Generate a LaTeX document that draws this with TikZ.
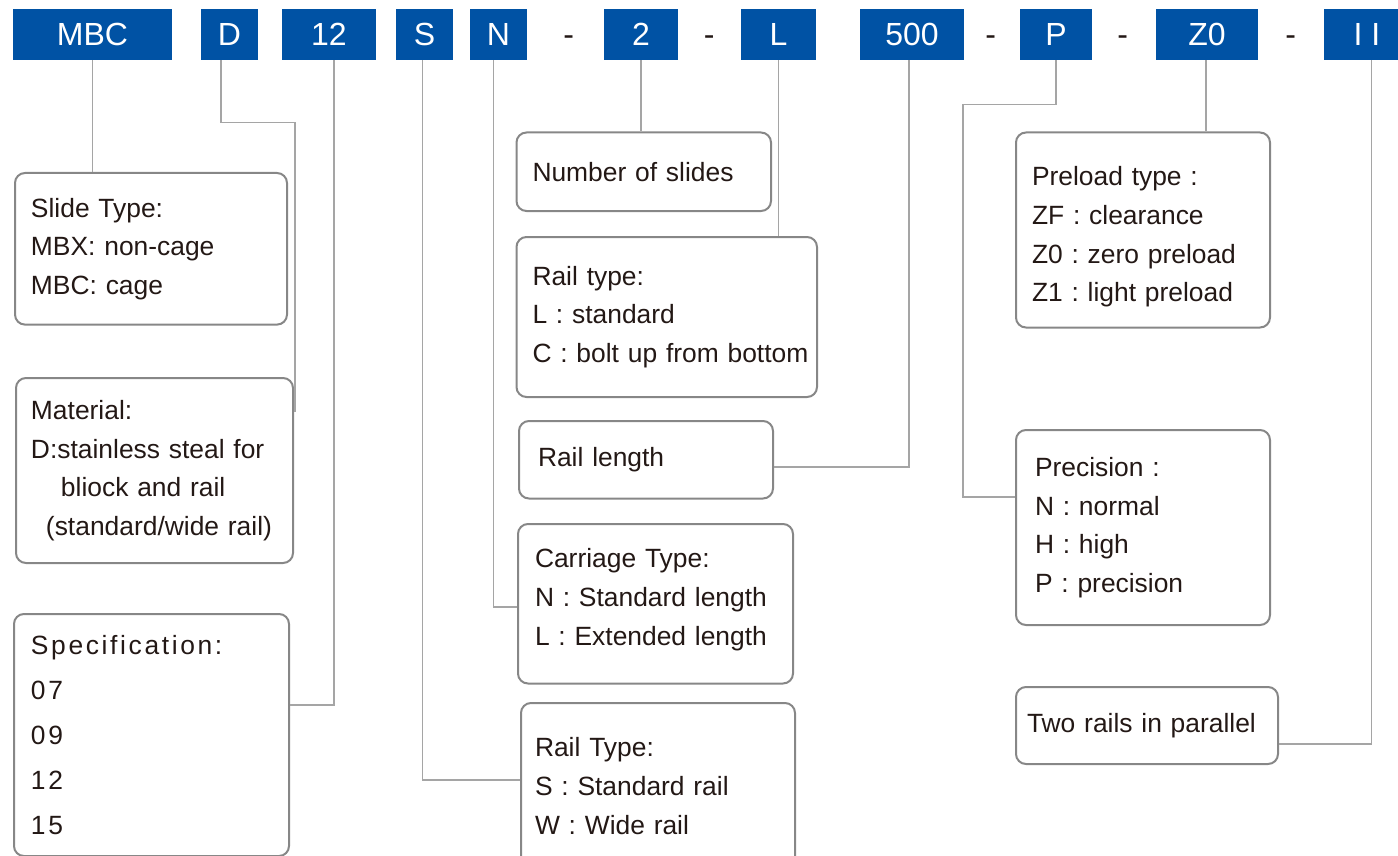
\documentclass[tikz,border=0pt]{standalone}
\usepackage{fontspec}
\setmainfont{Liberation Sans}
\newfontfamily\spacedfont[LetterSpace=10]{Liberation Sans}
\usetikzlibrary{positioning}
\definecolor{codeblue}{RGB}{0,82,164}
\definecolor{boxgray}{RGB}{135,135,135}
\definecolor{linegray}{RGB}{165,165,165}
\definecolor{inkblack}{RGB}{35,24,21}

\begin{document}
\frenchspacing
\begin{tikzpicture}[x=0.5pt, y=-0.5pt,
code/.style={rectangle, fill=codeblue, text=white, minimum height=25.5pt, inner sep=0pt, font=\fontsize{16}{19}\selectfont},
hyphen/.style={anchor=base, text=inkblack, inner sep=0pt, font=\fontsize{16}{19}\selectfont},
desc/.style={rectangle, draw=boxgray, line width=1pt, rounded corners=5pt, anchor=north west, align=left, inner xsep=8pt, text=inkblack, font=\fontsize{13.2}{19.3}\selectfont},
link/.style={draw=linegray, line width=0.75pt}]

\useasboundingbox (0,0) rectangle (1398,856);

%order code
\node (cMBC) [code, minimum width=79.5pt] at (92.5,34.5) {MBC};
\node (cD) [code, minimum width=28.5pt] at (229.5,34.5) {D};
\node (c12) [code, minimum width=47pt] at (329,34.5) {12};
\node (cS) [code, minimum width=28.5pt] at (424.5,34.5) {S};
\node (cN) [code, minimum width=28.5pt] at (498.5,34.5) {N};
\node (d1) [hyphen] at (568.7,46) {-};
\node (c2) [code, minimum width=37pt] at (641,34.5) {2};
\node (d2) [hyphen] at (709.3,46) {-};
\node (cL) [code, minimum width=37.5pt] at (778.5,34.5) {L};
\node (c500) [code, minimum width=52pt] at (912,34.5) {500};
\node (d3) [hyphen] at (990.7,46) {-};
\node (cP) [code, minimum width=36pt] at (1056,34.5) {P};
\node (d4) [hyphen] at (1122.7,46) {-};
\node (cZ0) [code, minimum width=51pt] at (1207,34.5) {Z0};
\node (d5) [hyphen] at (1290.7,46) {-};
\node (cII) [code, minimum width=43pt] at (1367,34.5) {I I};

%left column
\node (slidetype) [desc, text width=120pt, minimum height=75.8pt] at (14,172) {Slide Type:\\MBX: non-cage\\MBC: cage};
\node (material) [desc, inner xsep=7.5pt, text width=123.5pt, minimum height=92.5pt] at (15,377) {Material:\\D:stainless steal for\\\hspace*{15pt}bliock and rail\\\hspace*{7.5pt}(standard/wide rail)};
\node (spec) [desc, inner xsep=8.5pt, text width=120.5pt, minimum height=121pt, font=\spacedfont\fontsize{13.2}{22.4}\selectfont] at (13,613) {Specification:\\07\\09\\12\\15};

%middle column
\node (nslides) [desc, text width=111.25pt, minimum height=39.25pt] at (515.5,131.5) {Number of slides};
\node (railtype) [desc, text width=134.25pt, minimum height=80pt] at (515.5,236) {Rail type:\\L : standard\\\mbox{C : bolt up from bottom}};
\node (raillen) [desc, inner xsep=9.5pt, text width=108pt, minimum height=38.75pt] at (518,420) {Rail length};
\node (carriage) [desc, inner xsep=8.5pt, text width=120.5pt, minimum height=79.75pt] at (517,523) {Carriage Type:\\N : Standard length\\L : Extended length\rule[-6.8pt]{0pt}{1pt}};
\node (railkind) [desc, inner xsep=7pt, text width=123pt, minimum height=83pt] at (520,702) {Rail Type:\\S : Standard rail\\W : Wide rail};

%right column
\node (preload) [desc, text width=111pt, minimum height=97.5pt] at (1015,131.5) {\rule{0pt}{16.5pt}Preload type :\\ZF : clearance\\Z0 : zero preload\\Z1 : light preload};
\node (precision) [desc, inner xsep=9.5pt, text width=108pt, minimum height=97.5pt] at (1015,429) {Precision :\\N : normal\\H : high\\P : precision};
\node (tworails) [desc, inner xsep=5.5pt, text width=120pt, minimum height=38.5pt] at (1015,686) {Two rails in parallel};

%connectors
\draw [link] (cMBC.south) -- (cMBC.south |- slidetype.north);
\draw [link] ([xshift=-4.25pt]cD.south) -- ++(0,62) -| ([shift={(0.5pt,-17.5pt)}]material.north east);
\draw [link] ([xshift=2.5pt]c12.south) |- ([yshift=15pt]spec.east);
\draw [link] ([xshift=-1pt]cS.south) |- ([yshift=3pt]railkind.west);
\draw [link] ([xshift=-2.5pt]cN.south) |- ([yshift=-1.6pt]carriage.west);
\draw [link] (c2.south) -- (c2.south |- nslides.north);
\draw [link] (cL.south) -- (cL.south |- railtype.north);
\draw [link] ([xshift=-1.5pt]c500.south) |- ([yshift=-3.6pt]raillen.east);
\draw [link] (cP.south) -- ++(0,44) -| ([shift={(-26pt,15.25pt)}]precision.west) -- ([yshift=15.25pt]precision.west);
\draw [link] ([xshift=-0.5pt]cZ0.south) -- ([xshift=-0.5pt]cZ0.south |- preload.north);
\draw [link] ([xshift=2.25pt]cII.south) |- ([yshift=-9.25pt]tworails.east);

\end{tikzpicture}
\end{document}
